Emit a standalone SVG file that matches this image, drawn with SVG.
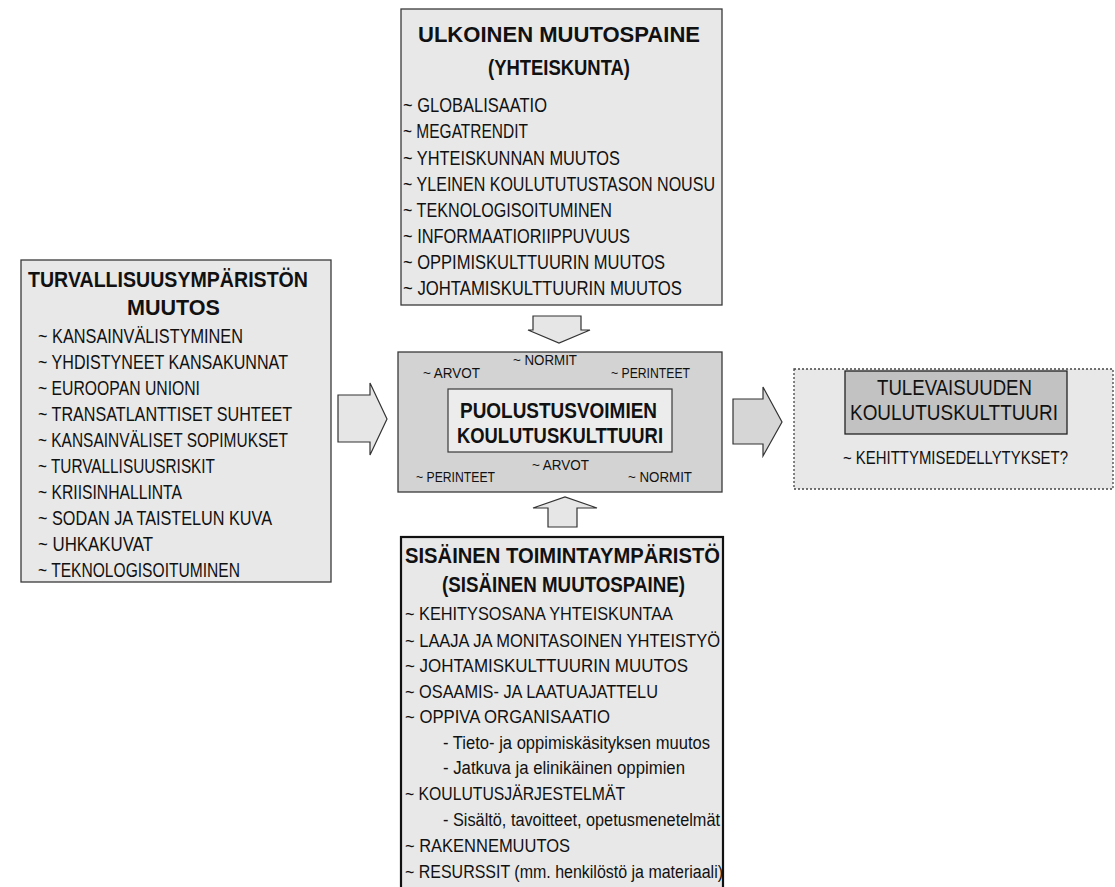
<svg xmlns="http://www.w3.org/2000/svg" width="1115" height="887" viewBox="0 0 1115 887">
<style>
.box{fill:#e8e8e8;stroke:#3a3a3a;stroke-width:1.3}
.mid{fill:#d3d3d3;stroke:#3a3a3a;stroke-width:1.3}
.inner{fill:#ececec;stroke:#3a3a3a;stroke-width:1.2}
.inner2{fill:#c2c2c2;stroke:#222;stroke-width:1.3}
.dash{fill:#e8e8e8;stroke:#444;stroke-width:1.3;stroke-dasharray:2 2}
.thick{fill:#e8e8e8;stroke:#111;stroke-width:2.2}
.arrow{fill:#e6e6e6;stroke:#333;stroke-width:1.2}
.arrow2{fill:#d6d6d6;stroke:#333;stroke-width:1.2}
text{font-family:"Liberation Sans",Arial,sans-serif;fill:#111}
.t{font-size:22.5px;font-weight:bold}
.it{font-size:20px}
.ib{font-size:18px}
.s{font-size:14px}
.r{font-size:22px}
</style>
<rect width="1115" height="887" fill="#ffffff"/>
<g id="connectors">
<polygon class="arrow" points="338,395 370,395 370,383 387,419 370,455 370,442 338,442"/>
<polygon class="arrow2" points="733,399 763,399 763,387 782,422 763,456 763,444 733,444"/>
<polygon class="arrow" points="533,316 581,316 581,330 590,330 559,343 528,330 533,330"/>
<polygon class="arrow" points="548,527 577,527 577,508 597,508 565,497 533,508 548,508"/>
</g>
<g id="node-ulkoinen">
<rect class="box" x="401" y="9" width="321" height="296"/>
<text class="t" x="418" y="42" textLength="282" lengthAdjust="spacingAndGlyphs">ULKOINEN MUUTOSPAINE</text>
<text class="t" x="488" y="75" textLength="142" lengthAdjust="spacingAndGlyphs">(YHTEISKUNTA)</text>
<text class="it" x="403" y="112" textLength="144" lengthAdjust="spacingAndGlyphs">~ GLOBALISAATIO</text>
<text class="it" x="403" y="138" textLength="125" lengthAdjust="spacingAndGlyphs">~ MEGATRENDIT</text>
<text class="it" x="403" y="165" textLength="217" lengthAdjust="spacingAndGlyphs">~ YHTEISKUNNAN MUUTOS</text>
<text class="it" x="403" y="191" textLength="312" lengthAdjust="spacingAndGlyphs">~ YLEINEN KOULUTUTUSTASON NOUSU</text>
<text class="it" x="403" y="217" textLength="209" lengthAdjust="spacingAndGlyphs">~ TEKNOLOGISOITUMINEN</text>
<text class="it" x="403" y="243" textLength="227" lengthAdjust="spacingAndGlyphs">~ INFORMAATIORIIPPUVUUS</text>
<text class="it" x="403" y="269" textLength="262" lengthAdjust="spacingAndGlyphs">~ OPPIMISKULTTUURIN MUUTOS</text>
<text class="it" x="403" y="295" textLength="279" lengthAdjust="spacingAndGlyphs">~ JOHTAMISKULTTUURIN MUUTOS</text>
</g>
<g id="node-turvallisuus">
<rect class="box" x="21" y="260" width="310" height="322"/>
<text class="t" x="28" y="287" textLength="280" lengthAdjust="spacingAndGlyphs">TURVALLISUUSYMPÄRISTÖN</text>
<text class="t" x="127" y="315" textLength="93" lengthAdjust="spacingAndGlyphs">MUUTOS</text>
<text class="it" x="38" y="343" textLength="205" lengthAdjust="spacingAndGlyphs">~ KANSAINVÄLISTYMINEN</text>
<text class="it" x="38" y="369" textLength="250" lengthAdjust="spacingAndGlyphs">~ YHDISTYNEET KANSAKUNNAT</text>
<text class="it" x="38" y="395" textLength="162" lengthAdjust="spacingAndGlyphs">~ EUROOPAN UNIONI</text>
<text class="it" x="38" y="421" textLength="254" lengthAdjust="spacingAndGlyphs">~ TRANSATLANTTISET SUHTEET</text>
<text class="it" x="38" y="447" textLength="250" lengthAdjust="spacingAndGlyphs">~ KANSAINVÄLISET SOPIMUKSET</text>
<text class="it" x="38" y="473" textLength="177" lengthAdjust="spacingAndGlyphs">~ TURVALLISUUSRISKIT</text>
<text class="it" x="38" y="499" textLength="144" lengthAdjust="spacingAndGlyphs">~ KRIISINHALLINTA</text>
<text class="it" x="38" y="525" textLength="234" lengthAdjust="spacingAndGlyphs">~ SODAN JA TAISTELUN KUVA</text>
<text class="it" x="38" y="551" textLength="115" lengthAdjust="spacingAndGlyphs">~ UHKAKUVAT</text>
<text class="it" x="38" y="577" textLength="202" lengthAdjust="spacingAndGlyphs">~ TEKNOLOGISOITUMINEN</text>
</g>
<g id="node-puolustusvoimien">
<rect class="mid" x="398" y="352" width="324" height="140"/>
<text class="s" x="423" y="378" textLength="57" lengthAdjust="spacingAndGlyphs">~ ARVOT</text>
<text class="s" x="513" y="365" textLength="64" lengthAdjust="spacingAndGlyphs">~ NORMIT</text>
<text class="s" x="611" y="378" textLength="79" lengthAdjust="spacingAndGlyphs">~ PERINTEET</text>
<rect class="inner" x="448" y="389" width="224" height="63"/>
<text class="t" x="460" y="418" textLength="197" lengthAdjust="spacingAndGlyphs">PUOLUSTUSVOIMIEN</text>
<text class="t" x="457" y="443" textLength="206" lengthAdjust="spacingAndGlyphs">KOULUTUSKULTTUURI</text>
<text class="s" x="532" y="470" textLength="57" lengthAdjust="spacingAndGlyphs">~ ARVOT</text>
<text class="s" x="416" y="482" textLength="79" lengthAdjust="spacingAndGlyphs">~ PERINTEET</text>
<text class="s" x="628" y="482" textLength="64" lengthAdjust="spacingAndGlyphs">~ NORMIT</text>
</g>
<g id="node-tulevaisuuden">
<rect class="dash" x="794" y="369" width="319" height="120"/>
<rect class="inner2" x="845" y="371" width="222" height="63"/>
<text class="r" x="877" y="395" textLength="155" lengthAdjust="spacingAndGlyphs">TULEVAISUUDEN</text>
<text class="r" x="850" y="420" textLength="208" lengthAdjust="spacingAndGlyphs">KOULUTUSKULTTUURI</text>
<text class="ib" x="843" y="464" textLength="225" lengthAdjust="spacingAndGlyphs">~ KEHITTYMISEDELLYTYKSET?</text>
</g>
<g id="node-sisainen">
<rect class="thick" x="401" y="537" width="322" height="360"/>
<text class="t" x="405" y="563" textLength="315" lengthAdjust="spacingAndGlyphs">SISÄINEN TOIMINTAYMPÄRISTÖ</text>
<text class="t" x="442" y="592" textLength="243" lengthAdjust="spacingAndGlyphs">(SISÄINEN MUUTOSPAINE)</text>
<text class="ib" x="405" y="620" textLength="268" lengthAdjust="spacingAndGlyphs">~ KEHITYSOSANA YHTEISKUNTAA</text>
<text class="ib" x="405" y="647" textLength="315" lengthAdjust="spacingAndGlyphs">~ LAAJA JA MONITASOINEN YHTEISTYÖ</text>
<text class="ib" x="405" y="672" textLength="283" lengthAdjust="spacingAndGlyphs">~ JOHTAMISKULTTUURIN  MUUTOS</text>
<text class="ib" x="405" y="698" textLength="253" lengthAdjust="spacingAndGlyphs">~ OSAAMIS- JA LAATUAJATTELU</text>
<text class="ib" x="405" y="723" textLength="205" lengthAdjust="spacingAndGlyphs">~ OPPIVA ORGANISAATIO</text>
<text class="ib" x="443" y="749" textLength="267" lengthAdjust="spacingAndGlyphs">- Tieto- ja oppimiskäsityksen muutos</text>
<text class="ib" x="443" y="774" textLength="242" lengthAdjust="spacingAndGlyphs">- Jatkuva ja elinikäinen oppimien</text>
<text class="ib" x="405" y="800" textLength="220" lengthAdjust="spacingAndGlyphs">~ KOULUTUSJÄRJESTELMÄT</text>
<text class="ib" x="443" y="826" textLength="277" lengthAdjust="spacingAndGlyphs">- Sisältö, tavoitteet, opetusmenetelmät</text>
<text class="ib" x="405" y="852" textLength="165" lengthAdjust="spacingAndGlyphs">~ RAKENNEMUUTOS</text>
<text class="ib" x="405" y="878" textLength="318" lengthAdjust="spacingAndGlyphs">~ RESURSSIT (mm.  henkilöstö ja materiaali)</text>
</g>
</svg>
